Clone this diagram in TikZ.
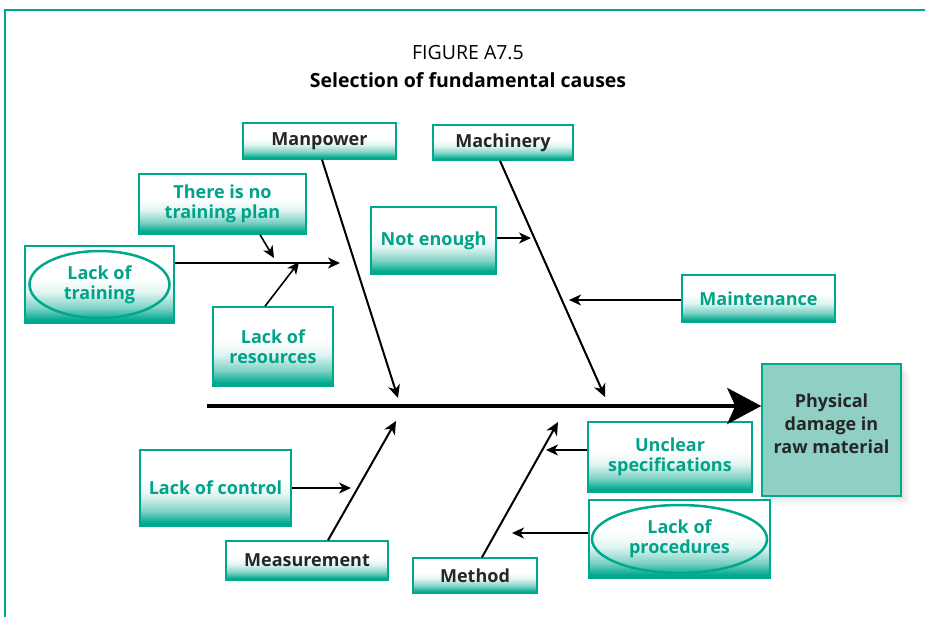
\documentclass[tikz,border=0pt]{standalone}
\usepackage{fontspec}
\setmainfont{Open Sans}
\usetikzlibrary{arrows.meta,calc,shadows}

\definecolor{teal1}{HTML}{00A88E}
\definecolor{tealtext}{HTML}{00A389}
\definecolor{darktext}{HTML}{262626}
\definecolor{headfill}{HTML}{8FCFC4}

% white upper half fading into teal at the bottom edge
\pgfdeclareverticalshading{causeshade}{100bp}{color(0bp)=(teal1); color(27bp)=(teal1); color(35bp)=(teal1!50); color(45bp)=(teal1!12); color(54bp)=(white); color(100bp)=(white)}

\begin{document}
\begin{tikzpicture}[x=1pt,y=-1pt,
  cause/.style={draw=teal1, line width=1.5pt, shading=causeshade, inner sep=0pt, align=center,
    font=\fontsize{18}{20}\selectfont\bfseries, text=tealtext},
  category/.style={cause, text=darktext},
  bone/.style={line width=2pt, -{Stealth[length=13pt,width=12pt,inset=4pt]}},
  twig/.style={line width=1.6pt, -{Stealth[length=12pt,width=11pt,inset=3.5pt]}},
  ring/.style={draw=teal1, line width=2.5pt},
]
\useasboundingbox (0,0) rectangle (925,616);

% outer frame
\draw[teal1, line width=2pt] (5,620) -- (5,10) -- (930,10);

% heading
\node[font=\fontsize{19.5}{22}\selectfont] (fig) at (468,53) {FIGURE A7.5};
\node[font=\fontsize{19.5}{22}\selectfont\bfseries] (title) at (468,80) {Selection of fundamental causes};

% effect
\node[draw=teal1, line width=1.5pt, fill=headfill, minimum width=139pt, minimum height=132pt,
  inner sep=0pt, align=center, text=darktext, font=\fontsize{18}{23}\selectfont\bfseries,
  text depth=12pt,
  drop shadow={opacity=0.10, shadow xshift=3pt, shadow yshift=-3pt},
  drop shadow={opacity=0.08, shadow xshift=6pt, shadow yshift=-6pt},
  drop shadow={opacity=0.05, shadow xshift=9pt, shadow yshift=-9pt}]
  (head) at (831.5,430) {Physical\\damage in\\raw material};

% categories
\node[category, minimum width=153pt, minimum height=36pt] (manpower) at (319.5,141) {Manpower};
\node[category, minimum width=140pt, minimum height=35pt] (machinery) at (503,142.5) {Machinery};
\node[category, minimum width=162pt, minimum height=39pt] (measurement) at (307,560.5) {Measurement};
\node[category, minimum width=124pt, minimum height=35pt] (method) at (475,575.5) {Method};

% causes
\node[cause, minimum width=167pt, minimum height=60pt] (plan) at (222.5,204) {There is no\\training plan};
\node[cause, minimum width=149pt, minimum height=77pt] (ltrain) at (99.5,284.5) {Lack of\\training};
\node[cause, minimum width=120pt, minimum height=79pt] (res) at (273,346.5) {Lack of\\resources};
\node[cause, minimum width=125pt, minimum height=67pt] (notenough) at (433.5,240.5) {Not enough};
\node[cause, minimum width=153pt, minimum height=47pt] (maint) at (758.5,298.5) {Maintenance};
\node[cause, minimum width=164pt, minimum height=70pt] (unclear) at (670,457) {Unclear\\specifications};
\node[cause, minimum width=151pt, minimum height=76pt] (lcontrol) at (215.5,488) {Lack of control};
\node[cause, minimum width=181pt, minimum height=78pt] (lproc) at (679.5,539) {Lack of\\procedures};

% fundamental causes are ringed
\draw[ring] (ltrain.center) ellipse [x radius=70, y radius=33.5];
\draw[ring] (lproc.center) ellipse [x radius=87.5, y radius=34];

% spine
\coordinate (tail) at (207,406);
\draw[line width=4pt, -{Stealth[length=34pt,width=36pt,inset=8pt]}] (tail) -- (head.west |- tail);

% main bones
\coordinate (mpEnd) at (398,398);
\coordinate (mcEnd) at (605,397);
\coordinate (msEnd) at (396,421);
\coordinate (mtEnd) at (558,422);
\draw[bone] ([xshift=2.5pt]manpower.south) -- (mpEnd);
\draw[bone] ([xshift=-3pt]machinery.south) -- (mcEnd);
\draw[bone] ([xshift=21pt]measurement.north) -- (msEnd);
\draw[bone] ([xshift=7pt]method.north) -- (mtEnd);

% minor bones
\coordinate (j1) at (340,263);
\coordinate (j2) at (274,258);
\coordinate (j3) at (299,262);
\coordinate (j4) at (531,238);
\coordinate (j5) at (569,300);
\coordinate (j6) at (351,488);
\coordinate (j7) at (546,450);
\coordinate (j8) at (512,533);
\draw[twig] (ltrain.east |- j1) -- (j1);
\draw[twig] ([xshift=37.5pt]plan.south) -- (j2);
\draw[twig] ([xshift=-8pt]res.north) -- (j3);
\draw[twig] (notenough.east |- j4) -- (j4);
\draw[twig] (maint.west |- j5) -- (j5);
\draw[twig] (lcontrol.east |- j6) -- (j6);
\draw[twig] (unclear.west |- j7) -- (j7);
\draw[twig] (lproc.west |- j8) -- (j8);
\end{tikzpicture}
\end{document}
